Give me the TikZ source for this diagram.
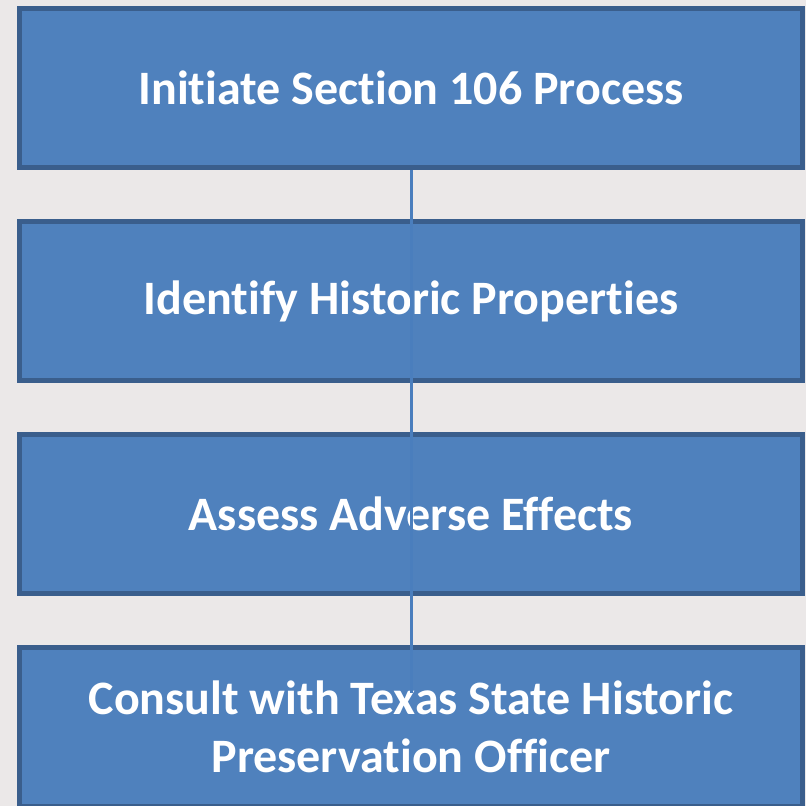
\documentclass[tikz,border=0pt]{standalone}
\usepackage{fontspec}
\setmainfont[Ligatures={NoCommon,NoContextual}]{Carlito}
\definecolor{bgcol}{HTML}{EBE8E8}
\definecolor{boxfill}{HTML}{4F81BD}
\definecolor{boxedge}{HTML}{3A5E8C}
\definecolor{linecol}{HTML}{4A7EBD}
\tikzset{
  stepbox/.style={draw=boxedge, fill=boxfill, line width=5pt, minimum width=783pt, minimum height=159pt,
    inner sep=0pt, text=white, align=center, font=\fontsize{48}{58}\selectfont\bfseries},
  conn/.style={draw=linecol, line width=3pt}
}
\begin{document}
\begin{tikzpicture}[x=1pt,y=-1pt]
\useasboundingbox (0,0) rectangle (806,806);
\clip (0,0) rectangle (806,806);
\fill[bgcol] (0,0) rectangle (806,806);
\node[stepbox] (b1) at (411,88) {Initiate Section 106 Process};
\node[stepbox] (b2) at (411,301) {Identify Historic Properties};
\node[stepbox] (b3) at (411,514) {Assess Adverse Effects};
\node[stepbox] (b4) at (411,727) {Consult with Texas State Historic\\Preservation Officer};
\coordinate (lend) at (411.5,693);
\draw[conn] (b1.south -| lend) -- (lend);
\end{tikzpicture}
\end{document}
